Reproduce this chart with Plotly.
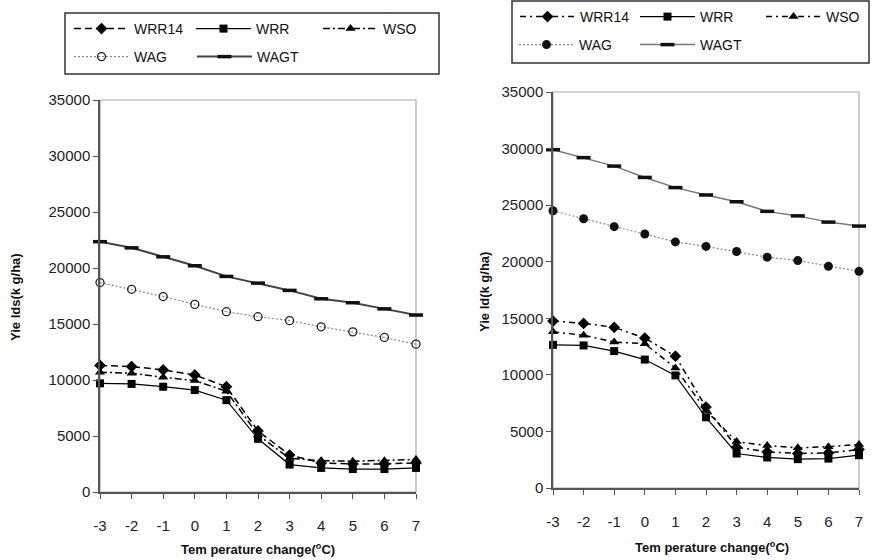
import plotly.graph_objects as go

W, H = 872, 560

temp = [-3, -2, -1, 0, 1, 2, 3, 4, 5, 6, 7]
x_ticks = [-3, -2, -1, 0, 1, 2, 3, 4, 5, 6, 7]
x_ticktext = ["-3", "-2", "-1", "0", "1", "2", "3", "4", "5", "6", "7"]
y_ticks = [0, 5000, 10000, 15000, 20000, 25000, 30000, 35000]
y_ticktext = ["0", "5000", "10000", "15000", "20000", "25000", "30000", "35000"]

# Left panel
L_WRR14 = [11300, 11200, 10900, 10450, 9400, 5450, 3300, 2600, 2500, 2500, 2600]
L_WRR = [9700, 9650, 9400, 9100, 8200, 4750, 2450, 2150, 2050, 2050, 2150]
L_WSO = [10700, 10600, 10250, 9950, 9000, 5100, 3000, 2800, 2750, 2800, 2900]
L_WAG = [18700, 18100, 17450, 16750, 16100, 15650, 15300, 14750, 14300, 13800, 13200]
L_WAGT = [22350, 21800, 21000, 20200, 19250, 18650, 18000, 17250, 16900, 16350, 15800]

# Right panel
R_WRR14 = [14750, 14550, 14200, 13250, 11650, 7150, 3600, 3200, 3050, 3100, 3400]
R_WRR = [12650, 12600, 12100, 11350, 9950, 6250, 3050, 2700, 2550, 2600, 2900]
R_WSO = [13800, 13500, 12900, 12750, 10600, 6850, 4100, 3750, 3550, 3650, 3850]
R_WAG = [24500, 23800, 23100, 22450, 21750, 21350, 20900, 20400, 20100, 19600, 19150]
R_WAGT = [29900, 29200, 28450, 27450, 26550, 25900, 25300, 24450, 24050, 23500, 23150]

FONT = "Arial, Liberation Sans, sans-serif"


def px_x(p):
    return p / W


def px_y(p):
    return 1 - p / H


fig = go.Figure()
legend_pos = {}
_count = [0]


def add(x, y, name, xa, ya, tx, ty, color, dash, width, symbol, size,
        mcolor=None, mline=None, mlw=0):
    _count[0] += 1
    lid = "legend" if _count[0] == 1 else "legend%d" % _count[0]
    legend_pos[lid] = (tx, ty)
    fig.add_trace(go.Scatter(
        x=x, y=y, name=name, mode="lines+markers", xaxis=xa, yaxis=ya,
        legend=lid, showlegend=True, cliponaxis=False,
        line=dict(color=color, dash=dash, width=width),
        marker=dict(symbol=symbol, size=size, color=mcolor or color,
                    line=dict(color=mline or color, width=mlw)),
    ))


# left panel traces (legend text positions in px)
add(temp, L_WRR14, "WRR14", "x", "y", 135, 29, "black", "7px,4px", 1.5, "diamond", 9)
add(temp, L_WRR, "WRR", "x", "y", 257, 29, "black", "solid", 1.2, "square", 8)
add(temp, L_WSO, "WSO", "x", "y", 384, 29, "black", "7px,3px,2px,3px", 1.5, "triangle-up", 9)
add(temp, L_WAG, "WAG", "x", "y", 135, 57, "#888888", "2px,2px", 1.2, "circle-open", 8,
    mcolor="#222222", mlw=1.3)
add(temp, L_WAGT, "WAGT", "x", "y", 258, 57, "#444444", "solid", 2, "line-ew", 10,
    mlw=3.5, mline="#111111")

# right panel traces
add(temp, R_WRR14, "WRR14", "x2", "y2", 581, 17, "black", "6px,4px,2px,4px", 1.5, "diamond", 9)
add(temp, R_WRR, "WRR", "x2", "y2", 701, 17, "black", "solid", 1.2, "square", 8)
add(temp, R_WSO, "WSO", "x2", "y2", 827, 17, "black", "6px,4px,2px,4px", 1.5, "triangle-up", 9)
add(temp, R_WAG, "WAG", "x2", "y2", 580, 45, "#888888", "2px,2px", 1.2, "circle", 9,
    mcolor="#111111")
add(temp, R_WAGT, "WAGT", "x2", "y2", 701, 45, "#777777", "solid", 1.5, "line-ew", 10,
    mlw=3.5, mline="#111111")

xax = dict(range=[-3, 7], tickvals=x_ticks, ticktext=x_ticktext, showgrid=False,
           zeroline=False, showline=True, linecolor="#555555", linewidth=1.5,
           ticks="outside", ticklen=5, tickcolor="#555555",
           tickfont=dict(family=FONT, size=15, color="#222"), ticklabelstandoff=14)
yax = dict(range=[0, 35000], tickvals=y_ticks, ticktext=y_ticktext, showgrid=False,
           zeroline=False, showline=True, linecolor="#555555", linewidth=1.5,
           ticks="outside", ticklen=5, tickcolor="#555555",
           tickfont=dict(family=FONT, size=15, color="#222"))

Ld = [px_x(100), px_x(416)]
Lyd = [px_y(492), px_y(100)]
Rd = [px_x(553), px_x(859)]
Ryd = [px_y(488), px_y(92)]

fig.update_layout(
    width=W, height=H, margin=dict(l=0, r=0, t=0, b=0, autoexpand=False),
    showlegend=True,
    paper_bgcolor="white", plot_bgcolor="white",
    xaxis=dict(xax, domain=Ld, anchor="y"),
    yaxis=dict(yax, domain=Lyd, anchor="x"),
    xaxis2=dict(xax, domain=Rd, anchor="y2"),
    yaxis2=dict(yax, domain=Ryd, anchor="x2"),
    font=dict(family=FONT, color="#111"),
)

ITEMW = 55
for lid, (tx, ty) in legend_pos.items():
    fig.update_layout({lid: dict(
        orientation="h", xanchor="left", yanchor="middle",
        x=px_x(tx - ITEMW - 11), y=px_y(ty),
        bgcolor="rgba(0,0,0,0)", borderwidth=0,
        font=dict(family=FONT, size=14, color="#111"),
        itemwidth=ITEMW, tracegroupgap=0,
    )})

shapes = [
    # legend boxes
    dict(type="rect", xref="paper", yref="paper", x0=px_x(65), x1=px_x(439),
         y0=px_y(74), y1=px_y(13), line=dict(color="#333", width=1.5)),
    dict(type="rect", xref="paper", yref="paper", x0=px_x(512), x1=px_x(869),
         y0=px_y(63), y1=px_y(1), line=dict(color="#333", width=1.5)),
    # plot frames (light)
    dict(type="rect", xref="x domain", yref="y domain", x0=0, x1=1, y0=0, y1=1,
         line=dict(color="#aaaaaa", width=1.2), layer="below"),
    dict(type="rect", xref="x2 domain", yref="y2 domain", x0=0, x1=1, y0=0, y1=1,
         line=dict(color="#aaaaaa", width=1.2), layer="below"),
]
fig.update_layout(shapes=shapes)

ann = [
    dict(text="<b>Yie lds(k g/ha)</b>", x=px_x(15), y=px_y(297), textangle=-90),
    dict(text="<b>Yie ld(k g/ha)</b>", x=px_x(484), y=px_y(292), textangle=-90),
    dict(text="<b>Tem perature change(<sup>o</sup>C)</b>", x=px_x(258), y=px_y(549)),
    dict(text="<b>Tem perature change(<sup>o</sup>C)</b>", x=px_x(712), y=px_y(547)),
]
for a in ann:
    fig.add_annotation(xref="paper", yref="paper", showarrow=False,
                       xanchor="center", yanchor="middle",
                       font=dict(family=FONT, size=13, color="#111"), **a)

fig.write_html("out.html")
